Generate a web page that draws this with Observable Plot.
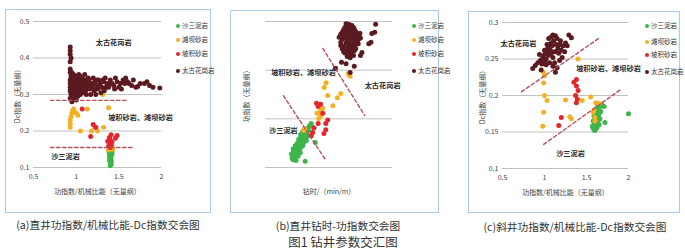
<!DOCTYPE html>
<html><head><meta charset="utf-8">
<script src="https://cdn.jsdelivr.net/npm/d3@7"></script>
<script src="https://cdn.jsdelivr.net/npm/@observablehq/plot@0.6"></script>
<style>
body{margin:0;background:#fff;}
#root{position:relative;width:685px;height:251px;overflow:hidden;background:#fff;font-family:"Noto Sans CJK SC","Noto Sans",sans-serif;}
.frame{position:absolute;border:1.5px solid #a9cbe8;box-sizing:border-box;}
.leg{position:absolute;font-size:6.5px;color:#333;white-space:nowrap;line-height:1;}
.leg i{display:inline-block;width:4px;height:4px;border-radius:50%;margin-right:2px;vertical-align:middle;}
.cap{position:absolute;font-size:10.7px;color:#333;white-space:nowrap;line-height:1;transform:translate(-50%,-50%);}
</style></head><body><div id="root"></div>
<script>
// ---------- data ----------
const seriesNames = ["沙三泥岩","滩坝砂岩","坡积砂岩","太古花岗岩"];
const seriesColors = ["#3db54a","#f4b223","#e3262b","#5a1a20"];

// Panel (a): 直井 功指数/机械比能 vs Dc
const aGreen = [[1.40,0.105],[1.40,0.11],[1.41,0.115],[1.39,0.12],[1.40,0.125],[1.41,0.13],[1.39,0.135],[1.40,0.14],[1.42,0.145],[1.38,0.145],[1.40,0.15],[1.41,0.12],[1.39,0.13],[1.40,0.118],[1.42,0.138],[1.41,0.108],[1.39,0.142]];
const aYellow = [[0.93,0.22],[0.93,0.21],[0.93,0.23],[0.95,0.25],[0.96,0.256],[0.97,0.26],[1.0,0.25],[1.02,0.243],[1.05,0.2],[1.13,0.26],[0.94,0.24],[1.18,0.2],[1.22,0.21],[1.25,0.2],[1.31,0.30],[1.32,0.21],[1.38,0.264],[1.40,0.152],[1.38,0.148],[1.43,0.15],[1.42,0.158]];
const aRed = [[1.07,0.26],[1.17,0.185],[1.20,0.218],[1.23,0.21],[1.39,0.182],[1.40,0.175],[1.39,0.168],[1.41,0.162],[1.38,0.158],[1.40,0.155],[1.42,0.17],[1.46,0.18],[1.48,0.188],[1.41,0.19],[1.37,0.172]];
const aBrown = [[0.93,0.43],[0.93,0.42],[0.93,0.41],[0.94,0.40],[0.93,0.39],[0.93,0.37],[0.93,0.36],[0.94,0.35],[0.93,0.34],[0.93,0.33],[0.93,0.32],[0.93,0.31],[0.94,0.30],[0.93,0.29],[0.95,0.28],
[0.95,0.36],[0.97,0.355],[0.99,0.35],[1.0,0.345],[0.96,0.34],[0.98,0.335],[1.01,0.33],[1.03,0.34],[1.05,0.35],[0.95,0.32],[0.97,0.315],[0.99,0.31],[1.0,0.30],[0.96,0.30],[0.94,0.305],[1.02,0.32],[1.04,0.325],[1.06,0.315],[1.08,0.33],[1.10,0.34],[1.07,0.345],[1.09,0.32],[1.11,0.31],[1.13,0.325],[1.12,0.335],[1.15,0.34],[1.14,0.32],[1.16,0.315],[1.18,0.33],[1.20,0.345],[1.19,0.325],[1.22,0.335],[1.21,0.31],[1.24,0.325],[1.26,0.34],[1.28,0.33],[1.25,0.315],[1.30,0.32],[1.32,0.335],[1.34,0.345],[1.36,0.33],[1.33,0.31],[1.38,0.32],[1.40,0.34],[1.42,0.33],[1.44,0.325],[1.46,0.345],[1.48,0.335],[1.50,0.32],[1.52,0.33],[1.55,0.34],[1.58,0.345],[1.60,0.335],[1.62,0.33],[1.65,0.325],[1.70,0.32],[1.72,0.322],[1.80,0.33],[1.83,0.335],[1.86,0.325],[1.90,0.32],[1.98,0.318],[1.05,0.30],[1.08,0.305],[1.12,0.30],[1.17,0.30],[1.02,0.295],[0.98,0.29],[1.0,0.315],[1.06,0.335],[1.1,0.355],[1.14,0.345],[1.27,0.32],[1.35,0.32],[1.45,0.315],[1.57,0.33],[1.67,0.34],[1.23,0.30],[1.29,0.305],
[0.97,0.325],[1.01,0.31],[1.04,0.305],[1.07,0.32],[0.99,0.34],[1.03,0.355],[1.11,0.325],[1.16,0.33],[0.96,0.29],[1.0,0.285],[1.2,0.315],[1.24,0.34],[1.31,0.34],[1.39,0.33],[1.53,0.315],[1.75,0.33]];
const aLines = [[[0.70,0.284],[1.61,0.284]],[[0.70,0.155],[1.68,0.155]]];
const aLabels = [{t:"太古花岗岩",x:1.44,y:0.443},{t:"坡积砂岩、滩坝砂岩",x:1.754,y:0.237},{t:"沙三泥岩",x:0.875,y:0.13}];
const aXTicks = [0.5,1,1.5,2], aYTicks = [0.1,0.2,0.3,0.4,0.5];

// Panel (b): 直井 钻时 vs 功指数 (log-log)
const bGreen = [[0.85,0.31],[0.9,0.29],[0.88,0.36],[0.95,0.33],[1.0,0.38],[0.92,0.42],[1.05,0.35],[1.1,0.43],[1.0,0.47],[1.15,0.5],[1.2,0.45],[1.08,0.54],[1.25,0.56],[1.3,0.62],[1.2,0.65],[1.35,0.52],[1.4,0.68],[1.45,0.75],[1.3,0.74],[1.5,0.82],[1.55,0.72],[1.6,0.88],[1.45,0.92],[1.7,0.98],[1.65,1.05],[1.8,1.1],[1.75,0.92],[1.9,1.2],[2.0,1.3],[2.1,1.15],[2.2,1.45],[2.4,1.6],[2.5,1.4],[0.97,0.3],[1.12,0.38],[1.28,0.47],[1.42,0.58],[1.58,0.64],[1.7,0.78],[1.85,0.85],[1.55,1.0],[1.38,0.85],[1.73,0.27],[3.0,0.65],
[0.82,0.38],[0.9,0.48],[1.0,0.56],[1.12,0.62],[1.22,0.76],[1.35,0.95],[1.5,1.08],[1.62,1.2],[1.05,0.28],[1.18,0.34],[1.33,0.4],[1.5,0.55],[1.65,0.68],[1.85,0.72],[2.0,0.9]];
const bYellow = [[1.6,1.15],[1.7,1.25],[3.6,2.0],[4.0,2.3],[3.3,2.6],[4.0,2.9],[4.5,3.3],[5.9,6.0],[12,6.6],[7.8,3.7],[10,5.4],[4.9,8.8],[5.4,11],[18,17],[20,15],[19,16]];
const bRed = [[4.0,4.0],[3.5,3.6],[3.5,1.6],[2.8,1.3],[2.6,1.05],[5.3,1.6],[5.9,1.9],[5.3,1.2],[4.8,1.0],[2.4,0.9],[4.5,2.6],[3.2,4.2]];
const bBrown = [[16,180],[18,175],[20,170],[17,160],[19,155],[22,165],[24,150],[15,150],[21,145],[18,140],[25,140],[14,135],[16,130],[20,130],[23,128],[27,125],[13,120],[17,120],
[12,110],[14,105],[18,110],[22,112],[26,108],[30,105],[33,100],[15,95],[19,98],[24,95],[28,90],[32,88],[35,92],[13,85],[17,82],[21,85],[25,80],[29,78],[12,75],[16,72],[20,70],[23,68],[27,72],[31,70],[14,62],[18,60],[22,62],[26,60],
[13,55],[16,52],[19,50],[22,54],[25,50],[15,45],[18,42],[21,44],[24,40],[17,38],[20,36],[14,48],[27,55],[12,64],[30,82],[11,95],[34,115],
[9,22],[12.5,29],[16,27],[20,18],[25,24],[35,40],[38,46],[55,70],[62,75],[65,114],[76,120],[80,175]];
const bLines = [[[0.53,6.0],[5.2,0.29]],[[4.5,56],[44,2.35]]];
const bLabels = [{t:"坡积砂岩、滩坝砂岩",x:1.58,y:18},{t:"太古花岗岩",x:117,y:9.7},{t:"沙三泥岩",x:0.53,y:1.16}];
const bTicks = [0.2,2,20,200];

// Panel (c): 斜井 功指数/机械比能 vs Dc
const cGreen = [[1.58,0.155],[1.6,0.152],[1.62,0.155],[1.59,0.16],[1.61,0.162],[1.63,0.158],[1.65,0.16],[1.58,0.165],[1.6,0.168],[1.62,0.166],[1.64,0.165],[1.66,0.168],[1.59,0.172],[1.61,0.175],[1.63,0.172],[1.65,0.175],[1.67,0.178],[1.6,0.18],[1.62,0.182],[1.64,0.18],[1.66,0.185],[1.68,0.188],[1.63,0.187],[1.57,0.158],[1.61,0.158],[1.64,0.17],[1.71,0.185],[1.72,0.163],[2.0,0.175],[1.59,0.153]];
const cYellow = [[0.99,0.232],[1.0,0.227],[0.99,0.217],[1.0,0.2],[1.03,0.193],[0.99,0.177],[0.98,0.158],[1.25,0.194],[1.3,0.171],[1.32,0.168],[1.40,0.25],[1.45,0.193],[1.55,0.198],[1.58,0.177],[1.6,0.17],[1.59,0.18],[1.61,0.19],[1.65,0.189],[1.6,0.165]];
const cRed = [[1.35,0.218],[1.38,0.222],[1.38,0.213],[1.40,0.207],[1.37,0.20],[1.39,0.195],[1.38,0.19],[1.2,0.17],[1.17,0.159]];
const cBrown = [[0.86,0.237],[0.89,0.241],[0.92,0.245],[0.95,0.248],[0.97,0.243],[0.98,0.252],[1.0,0.256],[1.02,0.25],[1.03,0.26],[1.05,0.255],[1.0,0.262],[1.04,0.265],[1.06,0.27],[1.07,0.262],[1.08,0.258],[1.1,0.252],[1.12,0.26],[1.09,0.268],[1.11,0.275],[1.08,0.28],[1.05,0.278],[1.13,0.282],[1.15,0.278],[1.14,0.27],[1.16,0.265],[1.18,0.27],[1.17,0.258],[1.2,0.262],[1.22,0.268],[1.19,0.275],[1.12,0.245],[1.15,0.238],[1.1,0.24],[1.06,0.245],[1.02,0.242],[1.25,0.272],[1.27,0.268],[1.29,0.283],[1.32,0.279],[1.24,0.26],[1.21,0.252],[0.94,0.256],[0.96,0.235],[1.13,0.232],[1.18,0.248],[1.08,0.272],[1.1,0.283],[1.14,0.26],[1.03,0.27],[1.0,0.247]];
const cLines = [[[0.726,0.205],[1.643,0.278]],[[0.99,0.133],[1.905,0.208]]];
const cLabels = [{t:"太古花岗岩",x:0.69,y:0.271},{t:"坡积砂岩、滩坝砂岩",x:1.762,y:0.237},{t:"沙三泥岩",x:1.31,y:0.12}];
const cXTicks = [0.5,1,1.5,2], cYTicks = [0.1,0.15,0.2,0.25,0.3];

const captions = ["(a)直井功指数/机械比能-Dc指数交会图","(b)直井钻时-功指数交会图","(c)斜井功指数/机械比能-Dc指数交会图"];
const figTitle = "图1 钻井参数交汇图";

// ---------- drawing ----------
const root = document.getElementById("root");
const FONT = '"Noto Sans CJK SC","Noto Sans",sans-serif';

function panel(cfg){
  const series = [cfg.g, cfg.yl, cfg.r, cfg.b];
  const marks = [
    Plot.gridY(cfg.yTicks, {stroke:"#c2c2c2", strokeOpacity:1, strokeWidth:1}),
    Plot.axisX(cfg.xTicks, {tickSize:0, tickPadding:7, tickFormat: d=>String(d), fontSize:7, label: cfg.xLabel, labelAnchor:"center", labelOffset:26, labelArrow:"none"}),
    Plot.axisY(cfg.yTicks, {tickSize:0, tickPadding:4, tickFormat: d=>String(d), fontSize:7, label: cfg.yLabel, labelAnchor:"center", labelOffset:cfg.yLabelOffset, labelArrow:"none"}),
    ...series.map((s,i)=>Plot.dot(s,{x:d=>d[0], y:d=>d[1], r:2.5, fill:seriesColors[i], stroke:"none"})),
    ...cfg.lines.map(l=>Plot.line(l,{x:d=>d[0], y:d=>d[1], stroke:"#b8505a", strokeWidth:1.4, strokeDasharray:"3.5,2.5"})),
    Plot.text(cfg.labels,{x:"x", y:"y", text:"t", fontSize:7.2, fontWeight:"bold", fill:"#2a2a2a"})
  ];
  const svg = Plot.plot({
    width: cfg.w, height: cfg.h,
    marginLeft: cfg.ml, marginRight: cfg.mr, marginTop: cfg.mt, marginBottom: cfg.mb,
    style: {fontFamily: FONT, fontSize:"7px", color:"#444", background:"transparent", overflow:"visible"},
    x: {type: cfg.type, domain: cfg.xDomain},
    y: {type: cfg.type, domain: cfg.yDomain},
    marks
  });
  svg.style.position = "absolute";
  svg.style.left = cfg.left + "px";
  svg.style.top = cfg.top + "px";
  return svg;
}

function frame(l,t,w,h){
  const d = document.createElement("div");
  d.className = "frame";
  Object.assign(d.style,{left:l+"px",top:t+"px",width:w+"px",height:h+"px"});
  root.appendChild(d);
}
function legend(x, ys){
  seriesNames.forEach((n,i)=>{
    const d = document.createElement("div");
    d.className = "leg";
    d.style.left = x + "px";
    d.style.top = (ys[i]-3.5) + "px";
    d.innerHTML = `<i style="background:${seriesColors[i]}"></i>${n}`;
    root.appendChild(d);
  });
}
function cap(text, x, y, size){
  const d = document.createElement("div");
  d.className = "cap";
  d.style.left = x+"px"; d.style.top = y+"px";
  if (size) d.style.fontSize = size+"px";
  d.textContent = text;
  root.appendChild(d);
}

frame(5,9,206,204);
frame(230,10,209,203);
frame(468,11,212,202);

root.appendChild(panel({g:aGreen, yl:aYellow, r:aRed, b:aBrown, lines:aLines, labels:aLabels,
  xTicks:aXTicks, yTicks:aYTicks, xDomain:[0.5,2], yDomain:[0.1,0.5], type:"linear",
  xLabel:"功指数/机械比能（无量纲）", yLabel:"Dc指数（无量纲）", yLabelOffset:18,
  left:5, top:10, w:165, h:195, ml:28, mr:9, mt:11, mb:38}));
root.appendChild(panel({g:bGreen, yl:bYellow, r:bRed, b:bBrown, lines:bLines, labels:bLabels,
  xTicks:bTicks, yTicks:bTicks, xDomain:[0.2,200], yDomain:[0.2,200], type:"log",
  xLabel:"钻时/（min/m）", yLabel:"功指数（无量纲）", yLabelOffset:21,
  left:230, top:10, w:180, h:195, ml:35, mr:18, mt:11, mb:38}));
root.appendChild(panel({g:cGreen, yl:cYellow, r:cRed, b:cBrown, lines:cLines, labels:cLabels,
  xTicks:cXTicks, yTicks:cYTicks, xDomain:[0.5,2], yDomain:[0.1,0.3], type:"linear",
  xLabel:"功指数/机械比能（无量纲）", yLabel:"Dc指数（无量纲）", yLabelOffset:22,
  left:468, top:10, w:175, h:195, ml:34, mr:15, mt:12, mb:37}));

legend(176,[25,39,53,70]);
legend(412,[25,39,53,70]);
legend(645,[25,41,54,71]);

cap(captions[0],108,225);
cap(captions[1],338,226);
cap(captions[2],575,227);
cap(figTitle,343,242,12.5);
</script></body></html>
